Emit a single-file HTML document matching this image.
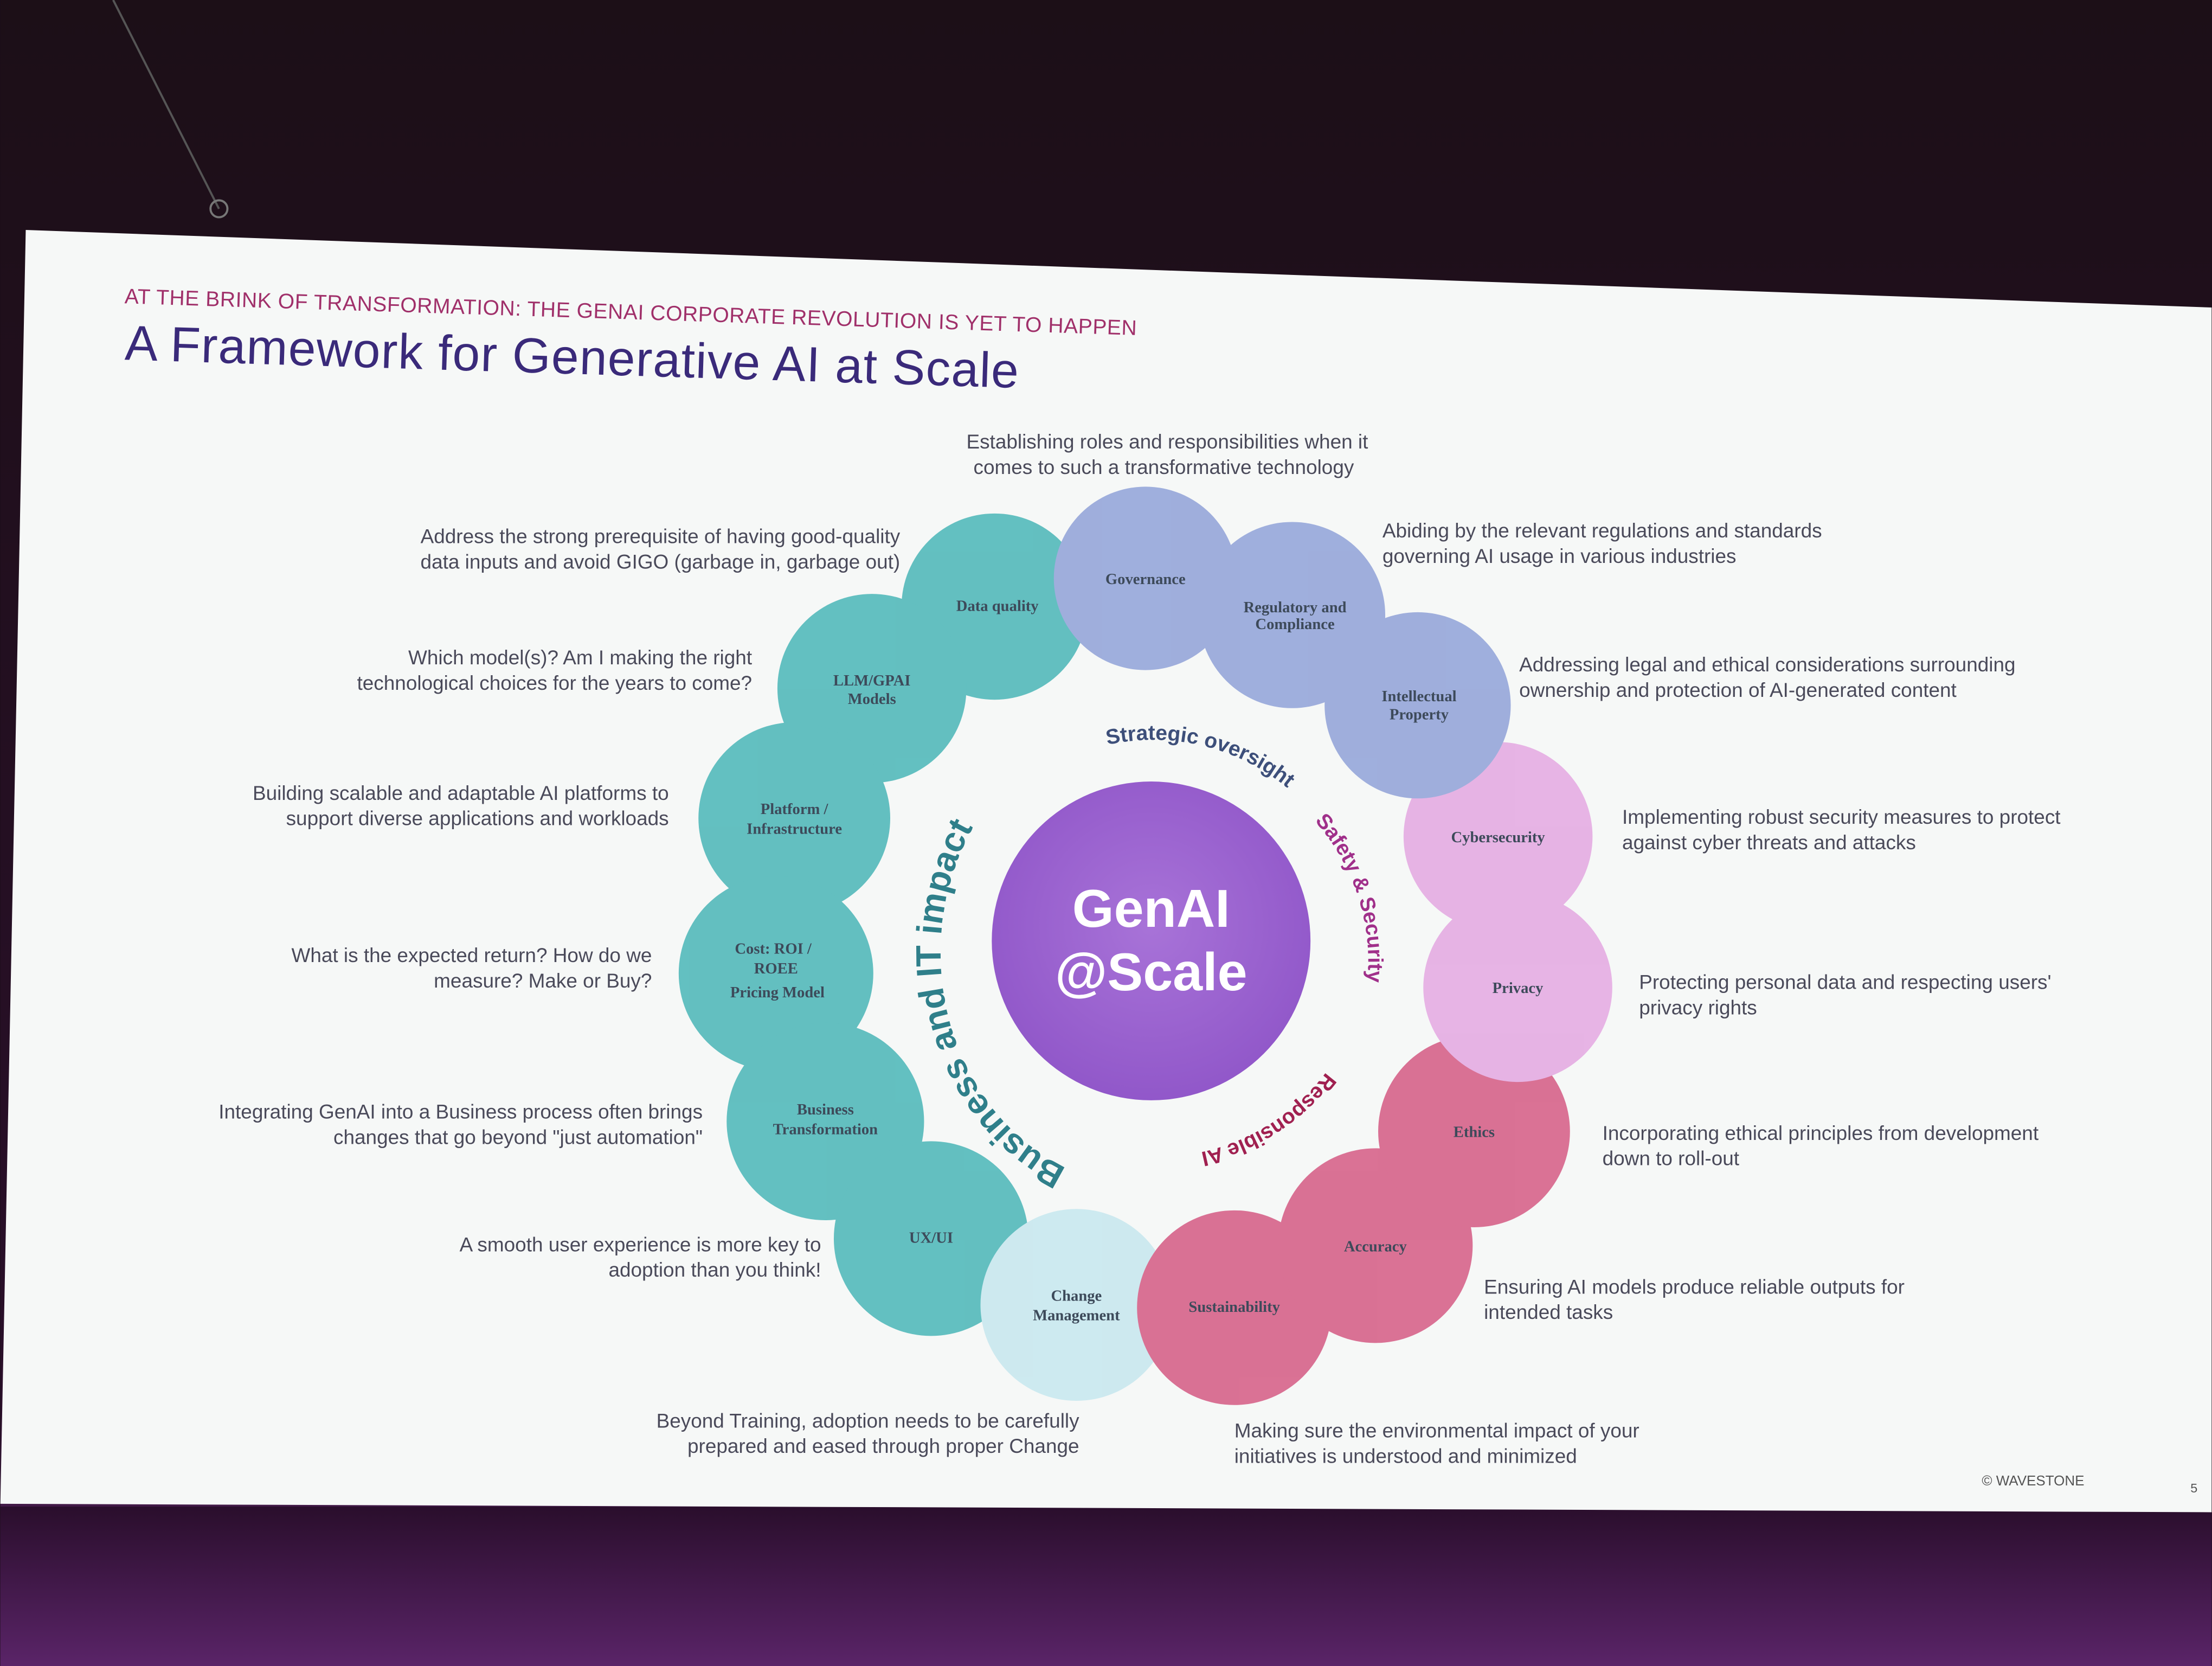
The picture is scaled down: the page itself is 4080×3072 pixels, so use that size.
<!DOCTYPE html>
<html><head><meta charset="utf-8">
<style>
html,body{margin:0;padding:0;background:#1a0d18;}
svg{display:block;}
text{font-family:"Liberation Sans",sans-serif;}
.d{font-size:14.2px;fill:#4a4a5a;}
.c{font-family:"Liberation Serif",serif;font-size:11px;fill:#3d4a5a;text-anchor:middle;font-weight:bold;}
</style></head>
<body>
<svg width="4080" height="3072" viewBox="0 0 1568 1181" xmlns="http://www.w3.org/2000/svg">
<defs>
<linearGradient id="bg" x1="0" y1="0" x2="0" y2="1">
<stop offset="0" stop-color="#1c0f17"/><stop offset="0.85" stop-color="#2a0f2a"/><stop offset="1" stop-color="#6a2a7a"/>
</linearGradient>
<linearGradient id="bot" x1="0" y1="0" x2="0" y2="1">
<stop offset="0" stop-color="#2a0e2c"/><stop offset="1" stop-color="#5a2468"/>
</linearGradient>
<radialGradient id="gc" cx="0.5" cy="0.45" r="0.6"><stop offset="0" stop-color="#a873d8"/><stop offset="1" stop-color="#8f55c8"/></radialGradient>
<path id="pTop" d="M 785 528 A 150 150 0 0 1 925 570"/>
<path id="pRight" d="M 932 582 A 150 150 0 0 1 962 730"/>
<path id="pBot" d="M 940 760 A 150 150 0 0 1 815 820"/>
<path id="pLeft" d="M 756 828 A 145 165 0 0 1 747 528"/>
</defs>
<rect width="1568" height="1181" fill="url(#bg)"/>
<rect x="0" y="1068" width="1568" height="113" fill="url(#bot)"/>
<path d="M18 163 L1568 218 L1568 1072 L0 1066 Z" fill="#f6f8f7"/>
<line x1="80" y1="0" x2="155" y2="148" stroke="#555" stroke-width="1.5"/>
<circle cx="155" cy="148" r="6" fill="none" stroke="#777" stroke-width="1.5"/>
<text x="88" y="215" font-size="15" fill="#a0306a" textLength="718" transform="rotate(1.8 88 215)">AT THE BRINK OF TRANSFORMATION: THE GENAI CORPORATE REVOLUTION IS YET TO HAPPEN</text>
<text x="88" y="255" font-size="35" fill="#3a2a7a" textLength="634" transform="rotate(1.8 88 255)">A Framework for Generative AI at Scale</text>

<g opacity="0.8">
<circle cx="705" cy="430" r="66" fill="#3fb1b3"/>
<circle cx="618" cy="488" r="67" fill="#3fb1b3"/>
<circle cx="563" cy="580" r="68" fill="#3fb1b3"/>
<circle cx="550" cy="690" r="69" fill="#3fb1b3"/>
<circle cx="585" cy="795" r="70" fill="#3fb1b3"/>
<circle cx="660" cy="878" r="69" fill="#3fb1b3"/>
<circle cx="763" cy="925" r="68" fill="#c3e6ee"/>
<circle cx="875" cy="927" r="69" fill="#d3507c"/>
<circle cx="975" cy="883" r="69" fill="#d3507c"/>
<circle cx="1045" cy="802" r="68" fill="#d3507c"/>
<circle cx="1076" cy="700" r="67" fill="#e3a3e0"/>
<circle cx="1062" cy="593" r="67" fill="#e3a3e0"/>
<circle cx="1005" cy="500" r="66" fill="#8a9cd6"/>
<circle cx="916" cy="436" r="66" fill="#8a9cd6"/>
<circle cx="812" cy="410" r="65" fill="#8a9cd6"/>
</g>

<circle cx="816" cy="667" r="113" fill="url(#gc)"/>
<text x="816" y="657" text-anchor="middle" font-size="38" font-weight="bold" fill="#fff">GenAI</text>
<text x="816" y="702" text-anchor="middle" font-size="38" font-weight="bold" fill="#fff">@Scale</text>

<text font-size="15" font-weight="bold" fill="#3d4f7a"><textPath href="#pTop">Strategic oversight</textPath></text>
<text font-size="15" font-weight="bold" fill="#a0308a"><textPath href="#pRight">Safety &amp; Security</textPath></text>
<text font-size="15" font-weight="bold" fill="#a02050"><textPath href="#pBot">Responsible AI</textPath></text>
<text font-size="25" font-weight="bold" fill="#2f7f8a"><textPath href="#pLeft">Business and IT impact</textPath></text>

<text class="c" x="707" y="433">Data quality</text>
<text class="c" x="812" y="414">Governance</text>
<text class="c" x="918" y="434">Regulatory and</text><text class="c" x="918" y="446">Compliance</text>
<text class="c" x="1006" y="497">Intellectual</text><text class="c" x="1006" y="510">Property</text>
<text class="c" x="1062" y="597">Cybersecurity</text>
<text class="c" x="1076" y="704">Privacy</text>
<text class="c" x="1045" y="806">Ethics</text>
<text class="c" x="975" y="887">Accuracy</text>
<text class="c" x="875" y="930">Sustainability</text>
<text class="c" x="763" y="922">Change</text><text class="c" x="763" y="936">Management</text>
<text class="c" x="660" y="881">UX/UI</text>
<text class="c" x="585" y="790">Business</text><text class="c" x="585" y="804">Transformation</text>
<text class="c" x="548" y="676">Cost: ROI /</text><text class="c" x="550" y="690">ROEE</text><text class="c" x="551" y="707">Pricing Model</text>
<text class="c" x="563" y="577">Platform /</text><text class="c" x="563" y="591">Infrastructure</text>
<text class="c" x="618" y="486">LLM/GPAI</text><text class="c" x="618" y="499">Models</text>

<g class="d">
<text x="685" y="318">Establishing roles and responsibilities when it</text>
<text x="690" y="336">comes to such a transformative technology</text>
<text x="980" y="381">Abiding by the relevant regulations and standards</text>
<text x="980" y="399">governing AI usage in various industries</text>
<text x="1077" y="476">Addressing legal and ethical considerations surrounding</text>
<text x="1077" y="494">ownership and protection of AI-generated content</text>
<text x="1150" y="584">Implementing robust security measures to protect</text>
<text x="1150" y="602">against cyber threats and attacks</text>
<text x="1162" y="701">Protecting personal data and respecting users'</text>
<text x="1162" y="719">privacy rights</text>
<text x="1136" y="808">Incorporating ethical principles from development</text>
<text x="1136" y="826">down to roll-out</text>
<text x="1052" y="917">Ensuring AI models produce reliable outputs for</text>
<text x="1052" y="935">intended tasks</text>
<text x="875" y="1019">Making sure the environmental impact of your</text>
<text x="875" y="1037">initiatives is understood and minimized</text>
<g text-anchor="end">
<text x="638" y="385">Address the strong prerequisite of having good-quality</text>
<text x="638" y="403">data inputs and avoid GIGO (garbage in, garbage out)</text>
<text x="533" y="471">Which model(s)? Am I making the right</text>
<text x="533" y="489">technological choices for the years to come?</text>
<text x="474" y="567">Building scalable and adaptable AI platforms to</text>
<text x="474" y="585">support diverse applications and workloads</text>
<text x="462" y="682">What is the expected return? How do we</text>
<text x="462" y="700">measure? Make or Buy?</text>
<text x="498" y="793">Integrating GenAI into a Business process often brings</text>
<text x="498" y="811">changes that go beyond "just automation"</text>
<text x="582" y="887">A smooth user experience is more key to</text>
<text x="582" y="905">adoption than you think!</text>
<text x="765" y="1012">Beyond Training, adoption needs to be carefully</text>
<text x="765" y="1030">prepared and eased through proper Change</text>
</g>
</g>
<text x="1405" y="1053" font-size="10" fill="#555">© WAVESTONE</text>
<text x="1553" y="1058" font-size="9" fill="#555">5</text>
</svg>
</body></html>
